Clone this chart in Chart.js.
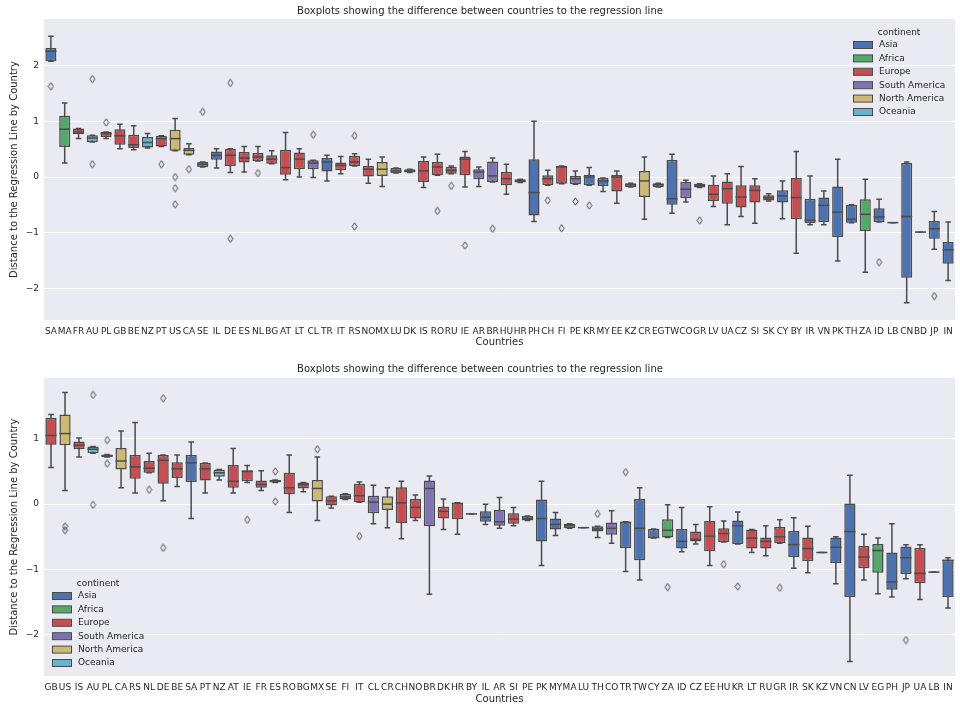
<!DOCTYPE html>
<html>
<head>
<meta charset="utf-8">
<script src="https://cdn.jsdelivr.net/npm/chart.js@4.4.0/dist/chart.umd.min.js"></script>
<style>
  html, body { margin: 0; padding: 0; background: #ffffff; }
  #topBox { position: absolute; left: 0; top: 0; width: 960px; height: 352px; }
  #bottomBox { position: absolute; left: 0; top: 352px; width: 960px; height: 353px; }
</style>
</head>
<body>
<div id="topBox"><canvas id="topChart"></canvas></div>
<div id="bottomBox"><canvas id="bottomChart"></canvas></div>
<script>
// continents and their seaborn "deep" colours
const continents = ['Asia', 'Africa', 'Europe', 'South America', 'North America', 'Oceania'];
const continentColors = ['#4c72b0', '#55a868', '#c44e52', '#8172b2', '#ccb974', '#64b5cd'];
const continentOf = {
  SA: 'Asia', MA: 'Africa', FR: 'Europe', AU: 'Oceania', PL: 'Europe', GB: 'Europe', BE: 'Europe',
  NZ: 'Oceania', PT: 'Europe', US: 'North America', CA: 'North America', SE: 'Europe', IL: 'Asia',
  DE: 'Europe', ES: 'Europe', NL: 'Europe', BG: 'Europe', AT: 'Europe', LT: 'Europe',
  CL: 'South America', TR: 'Asia', IT: 'Europe', RS: 'Europe', NO: 'Europe', MX: 'North America',
  LU: 'Europe', DK: 'Europe', IS: 'Europe', RO: 'Europe', RU: 'Europe', IE: 'Europe',
  AR: 'South America', BR: 'South America', HU: 'Europe', HR: 'Europe', PH: 'Asia', CH: 'Europe',
  FI: 'Europe', PE: 'South America', KR: 'Asia', MY: 'Asia', EE: 'Europe', KZ: 'Asia',
  CR: 'North America', EG: 'Africa', TW: 'Asia', CO: 'South America', GR: 'Europe', LV: 'Europe',
  UA: 'Europe', CZ: 'Europe', SI: 'Europe', SK: 'Europe', CY: 'Asia', BY: 'Europe', IR: 'Asia',
  VN: 'Asia', PK: 'Asia', TH: 'Asia', ZA: 'Africa', ID: 'Asia', LB: 'Asia', CN: 'Asia', BD: 'Asia',
  JP: 'Asia', IN: 'Asia'
};
const yTicks = [-2, -1, 0, 1, 2];

// upper panel
const topCountries = ['SA','MA','FR','AU','PL','GB','BE','NZ','PT','US','CA','SE','IL','DE','ES','NL','BG','AT','LT','CL','TR','IT','RS','NO','MX','LU','DK','IS','RO','RU','IE','AR','BR','HU','HR','PH','CH','FI','PE','KR','MY','EE','KZ','CR','EG','TW','CO','GR','LV','UA','CZ','SI','SK','CY','BY','IR','VN','PK','TH','ZA','ID','LB','CN','BD','JP','IN'];
const topLow = [2.08,0.25,0.69,0.63,0.69,0.51,0.49,0.52,0.55,0.47,0.40,0.18,0.16,0.08,0.09,0.29,0.24,-0.05,0.00,-0.01,-0.07,0.06,0.20,-0.11,-0.17,0.07,0.08,-0.19,0.03,0.06,-0.18,-0.17,-0.09,-0.31,-0.10,-0.80,-0.15,-0.12,-0.13,-0.15,-0.26,-0.47,-0.18,-0.76,-0.18,-0.65,-0.45,-0.19,-0.53,-0.86,-0.71,-0.83,-0.43,-0.75,-1.37,-0.86,-0.86,-1.51,-0.82,-1.71,-0.81,-0.82,-2.26,-0.99,-1.30,-1.86];
const topQ1 = [2.08,0.54,0.77,0.63,0.72,0.58,0.52,0.53,0.55,0.47,0.40,0.18,0.31,0.20,0.26,0.29,0.24,0.04,0.14,0.14,0.10,0.12,0.20,0.01,0.02,0.07,0.08,-0.09,0.03,0.06,0.03,-0.04,-0.09,-0.15,-0.10,-0.69,-0.15,-0.12,-0.13,-0.15,-0.16,-0.26,-0.18,-0.36,-0.18,-0.50,-0.38,-0.19,-0.43,-0.48,-0.55,-0.46,-0.42,-0.46,-0.76,-0.83,-0.81,-1.08,-0.82,-0.97,-0.81,-0.82,-1.81,-0.99,-1.11,-1.56];
const topMedian = [2.26,0.86,0.81,0.70,0.78,0.74,0.58,0.62,0.69,0.69,0.48,0.23,0.39,0.39,0.34,0.36,0.32,0.17,0.32,0.25,0.27,0.21,0.27,0.14,0.14,0.11,0.11,0.11,0.18,0.12,0.32,0.09,0.02,-0.03,-0.07,-0.28,-0.03,0.18,-0.03,0.00,-0.07,0.00,-0.14,-0.07,-0.14,-0.39,-0.22,-0.15,-0.31,-0.21,-0.36,-0.24,-0.37,-0.34,-0.37,-0.78,-0.51,-0.63,-0.76,-0.67,-0.72,-0.82,-0.71,-0.99,-0.93,-1.31];
const topQ3 = [2.32,1.10,0.87,0.75,0.81,0.86,0.76,0.72,0.74,0.85,0.52,0.27,0.46,0.51,0.45,0.43,0.39,0.49,0.44,0.30,0.34,0.26,0.38,0.20,0.27,0.16,0.14,0.29,0.27,0.18,0.37,0.14,0.28,0.09,-0.04,0.32,0.03,0.20,0.02,0.04,-0.02,0.04,-0.11,0.11,-0.11,0.31,-0.09,-0.12,-0.14,-0.08,-0.15,-0.15,-0.33,-0.24,-0.02,-0.39,-0.37,-0.17,-0.50,-0.40,-0.56,-0.82,0.25,-0.99,-0.79,-1.17];
const topHigh = [2.53,1.33,0.87,0.75,0.81,0.95,0.92,0.78,0.74,1.05,0.60,0.27,0.51,0.51,0.55,0.55,0.47,0.80,0.51,0.30,0.39,0.37,0.42,0.32,0.36,0.16,0.14,0.36,0.41,0.20,0.46,0.18,0.34,0.23,-0.04,1.00,0.12,0.20,0.11,0.17,-0.02,0.11,-0.11,0.36,-0.11,0.41,-0.06,-0.12,0.02,0.06,0.19,-0.03,-0.30,-0.07,0.46,0.02,-0.25,0.32,-0.50,-0.04,-0.40,-0.82,0.27,-0.99,-0.62,-0.81];
const topOutliers = [[1.63],[],[],[1.76,0.23],[0.98],[],[],[],[0.23],[0.00,-0.20,-0.49],[0.14],[1.17],[],[1.69,-1.11],[],[0.07],[],[],[],[0.76],[],[],[0.74,-0.89],[],[],[],[],[],[-0.61],[-0.16],[-1.23],[],[-0.93],[],[],[],[-0.42],[-0.92],[-0.44],[-0.51],[],[],[],[],[],[],[],[-0.78],[],[],[],[],[],[],[],[],[],[],[],[],[-1.53],[],[],[],[-2.14],[]];

// lower panel
const bottomCountries = ['GB','US','IS','AU','PL','CA','RS','NL','DE','BE','SA','PT','NZ','AT','IE','FR','ES','RO','BG','MX','SE','FI','IT','CL','CR','CH','NO','BR','DK','HR','BY','IL','AR','SI','PE','PK','MY','MA','LU','TH','CO','TR','TW','CY','ZA','ID','CZ','EE','HU','KR','LT','RU','GR','IR','SK','KZ','VN','CN','LV','EG','PH','JP','UA','LB','IN'];
const bottomLow = [0.56,0.21,0.72,0.78,0.72,0.25,0.17,0.48,0.05,0.27,-0.22,0.17,0.37,0.17,0.33,0.21,0.33,-0.13,0.19,-0.25,-0.06,0.07,0.03,-0.30,-0.36,-0.53,-0.25,-1.38,-0.39,-0.46,-0.15,-0.31,-0.37,-0.33,-0.25,-0.94,-0.48,-0.37,-0.36,-0.51,-0.60,-1.03,-1.16,-0.52,-0.51,-0.73,-0.61,-0.94,-0.58,-0.61,-0.74,-0.79,-0.60,-0.98,-1.05,-0.74,-1.22,-2.41,-1.16,-1.37,-1.42,-1.14,-1.46,-1.04,-1.59];
const bottomQ1 = [0.91,0.90,0.84,0.78,0.72,0.53,0.39,0.48,0.31,0.40,0.34,0.36,0.42,0.25,0.35,0.25,0.33,0.15,0.24,0.04,-0.02,0.07,0.03,-0.14,-0.09,-0.29,-0.22,-0.34,-0.22,-0.23,-0.15,-0.27,-0.33,-0.30,-0.25,-0.57,-0.39,-0.37,-0.36,-0.42,-0.47,-0.67,-0.86,-0.52,-0.51,-0.68,-0.57,-0.72,-0.58,-0.61,-0.68,-0.68,-0.60,-0.81,-0.87,-0.74,-0.90,-1.42,-0.98,-1.05,-1.31,-1.07,-1.21,-1.04,-1.42];
const bottomMedian = [1.05,1.08,0.90,0.84,0.74,0.66,0.57,0.55,0.67,0.54,0.63,0.54,0.48,0.35,0.50,0.30,0.35,0.25,0.30,0.24,0.05,0.11,0.13,0.03,0.00,0.02,-0.05,0.24,-0.11,0.01,-0.15,-0.20,-0.27,-0.23,-0.22,-0.22,-0.31,-0.33,-0.36,-0.38,-0.37,-0.28,-0.37,-0.51,-0.40,-0.57,-0.54,-0.49,-0.45,-0.33,-0.52,-0.57,-0.50,-0.62,-0.68,-0.74,-0.66,-0.42,-0.81,-0.71,-1.19,-0.82,-1.06,-1.04,-0.86];
const bottomQ3 = [1.32,1.37,0.96,0.88,0.76,0.86,0.75,0.66,0.75,0.64,0.75,0.63,0.53,0.60,0.52,0.36,0.37,0.48,0.33,0.37,0.12,0.16,0.31,0.13,0.12,0.26,0.08,0.36,-0.04,0.02,-0.15,-0.11,-0.09,-0.14,-0.18,0.07,-0.22,-0.30,-0.36,-0.34,-0.28,-0.27,0.08,-0.38,-0.23,-0.38,-0.42,-0.26,-0.37,-0.25,-0.39,-0.51,-0.35,-0.41,-0.51,-0.74,-0.51,0.01,-0.64,-0.61,-0.74,-0.65,-0.67,-1.04,-0.85];
const bottomHigh = [1.37,1.71,1.01,0.88,0.76,1.12,1.25,0.78,0.75,0.75,0.95,0.63,0.53,0.85,0.59,0.51,0.37,0.75,0.33,0.72,0.12,0.16,0.34,0.29,0.25,0.35,0.14,0.43,0.08,0.02,-0.15,0.00,0.10,-0.05,-0.18,0.35,-0.13,-0.30,-0.36,-0.34,-0.10,-0.27,0.25,-0.38,-0.01,-0.05,-0.31,-0.04,-0.26,-0.12,-0.39,-0.33,-0.24,-0.21,-0.34,-0.74,-0.50,0.44,-0.46,-0.52,-0.30,-0.62,-0.62,-1.04,-0.82];
const bottomOutliers = [[],[-0.34,-0.40],[],[1.67,-0.01],[0.98,0.62],[],[],[0.22],[1.62,-0.67],[],[],[],[],[],[-0.24],[],[0.50,0.04],[],[],[0.84],[],[],[-0.49],[],[],[],[],[],[],[],[],[],[],[],[],[],[],[],[],[-0.15],[],[0.49],[],[],[-1.27],[],[],[],[-0.92],[-1.26],[],[],[-1.28],[],[],[],[],[],[],[],[],[-2.08],[],[],[]];

const textColor = '#262626';
const lineGray = '#4b4b4b';
Chart.defaults.font.family = '"DejaVu Sans", sans-serif';
Chart.defaults.color = textColor;

// thin hollow diamond used for the outliers
const diamond = document.createElement('canvas');
diamond.width = 7; diamond.height = 9;
(function () {
  const g = diamond.getContext('2d');
  g.strokeStyle = lineGray;
  g.lineWidth = 1;
  g.beginPath();
  g.moveTo(3.5, 0.8); g.lineTo(6, 4.5); g.lineTo(3.5, 8.2); g.lineTo(1, 4.5); g.closePath();
  g.stroke();
})();

function boxPlugin(low, median, high, legendCorner) {
  return {
    id: 'boxParts',
    beforeDraw(chart) {
      const {ctx, chartArea: a} = chart;
      ctx.save();
      ctx.fillStyle = '#eaeaf2';
      ctx.fillRect(a.left, a.top, a.width, a.height);
      ctx.restore();
    },
    beforeDatasetsDraw(chart) {
      // whiskers and caps, behind the boxes
      const {ctx, scales: {y}} = chart;
      const bars = chart.getDatasetMeta(0).data;
      ctx.save();
      ctx.strokeStyle = lineGray;
      ctx.lineWidth = 1.5;
      bars.forEach((bar, i) => {
        const lo = y.getPixelForValue(low[i]);
        const hi = y.getPixelForValue(high[i]);
        const cap = bar.width / 4;
        ctx.beginPath();
        ctx.moveTo(bar.x, lo); ctx.lineTo(bar.x, hi);
        ctx.moveTo(bar.x - cap, lo); ctx.lineTo(bar.x + cap, lo);
        ctx.moveTo(bar.x - cap, hi); ctx.lineTo(bar.x + cap, hi);
        ctx.stroke();
      });
      ctx.restore();
    },
    afterDatasetsDraw(chart) {
      const {ctx, scales: {y}} = chart;
      const bars = chart.getDatasetMeta(0).data;
      ctx.save();
      ctx.strokeStyle = lineGray;
      ctx.lineWidth = 1.5;
      bars.forEach((bar, i) => {
        const m = y.getPixelForValue(median[i]);
        ctx.beginPath();
        ctx.moveTo(bar.x - bar.width / 2, m); ctx.lineTo(bar.x + bar.width / 2, m);
        ctx.stroke();
      });
      ctx.restore();
    },
    afterDraw(chart) {
      const {ctx, chartArea: a} = chart;
      ctx.save();
      ctx.font = '9px "DejaVu Sans"';
      const textW = Math.max(...continents.map(c => ctx.measureText(c).width));
      const step = 13.4;
      let left, top;
      if (legendCorner === 'topright') { left = a.right - 102; top = a.top + 26; }
      else { left = a.left + 8; top = a.bottom - 80; }
      ctx.textBaseline = 'middle';
      ctx.fillStyle = textColor;
      ctx.textAlign = 'center';
      ctx.fillText('continent', left + (26 + textW) / 2, top - 12.5);
      ctx.textAlign = 'left';
      continents.forEach((c, i) => {
        const yy = top + i * step;
        ctx.fillStyle = continentColors[i];
        ctx.fillRect(left, yy - 3.5, 20, 7);
        ctx.strokeStyle = lineGray;
        ctx.lineWidth = 1;
        ctx.strokeRect(left + 0.5, yy - 3.5, 19, 7);
        ctx.fillStyle = textColor;
        ctx.fillText(c, left + 26, yy);
      });
      ctx.restore();
    }
  };
}

function makeChart(canvasId, countries, low, q1, median, q3, high, outliers, yMin, yMax, lay) {
  const boxColors = countries.map(c => continentColors[continents.indexOf(continentOf[c])]);
  const outlierPoints = [];
  outliers.forEach((list, i) => list.forEach(v => outlierPoints.push({x: countries[i], y: v})));
  return new Chart(document.getElementById(canvasId), {
    type: 'bar',
    data: {
      labels: countries,
      datasets: [{
        data: q1.map((v, i) => [v, q3[i]]),
        backgroundColor: boxColors,
        borderColor: lineGray,
        borderWidth: 1.5,
        borderSkipped: false,
        barPercentage: 0.8,
        categoryPercentage: 1,
        order: 2
      }, {
        type: 'scatter',
        data: outlierPoints,
        pointStyle: diamond,
        pointRadius: 4,
        order: 1
      }]
    },
    options: {
      responsive: true,
      maintainAspectRatio: false,
      animation: false,
      events: [],
      layout: { padding: 0 },
      plugins: {
        legend: { display: false },
        tooltip: { enabled: false },
        title: {
          display: true,
          text: 'Boxplots showing the difference between countries to the regression line',
          color: textColor,
          font: { size: 10, weight: 'normal' },
          padding: { top: lay.titleTop, bottom: lay.titleBottom }
        }
      },
      scales: {
        x: {
          grid: { display: false, drawTicks: false },
          border: { display: false },
          ticks: { autoSkip: false, maxRotation: 0, minRotation: 0, color: textColor, font: { size: 9 }, padding: 6 },
          title: { display: true, text: 'Countries', color: textColor, font: { size: 10 }, padding: { top: 0, bottom: lay.xTitleBottom } },
          afterFit: s => { s.height = lay.xHeight; }
        },
        y: {
          min: yMin,
          max: yMax,
          grid: { color: '#ffffff', lineWidth: 1, drawTicks: false },
          border: { display: false },
          afterBuildTicks: s => { s.ticks = yTicks.filter(v => v >= yMin && v <= yMax).map(v => ({ value: v })); },
          ticks: {
            color: textColor, font: { size: 9 }, padding: 5,
            callback: v => v < 0 ? '\u2212' + Math.abs(v) : String(v)
          },
          title: { display: true, text: 'Distance to the Regression Line by Country', color: textColor, font: { size: 10 }, padding: { top: 8, bottom: 0 } },
          afterFit: s => { s.width = 44; }
        }
      }
    },
    plugins: [boxPlugin(low, median, high, lay.legend)]
  });
}

makeChart('topChart', topCountries, topLow, topQ1, topMedian, topQ3, topHigh, topOutliers, -2.57, 2.84,
  { titleTop: 5, titleBottom: 2, xHeight: 32, xTitleBottom: 4, legend: 'topright' });
makeChart('bottomChart', bottomCountries, bottomLow, bottomQ1, bottomMedian, bottomQ3, bottomHigh, bottomOutliers, -2.63, 1.93,
  { titleTop: 11, titleBottom: 3, xHeight: 29, xTitleBottom: 0, legend: 'bottomleft' });
</script>
</body>
</html>
